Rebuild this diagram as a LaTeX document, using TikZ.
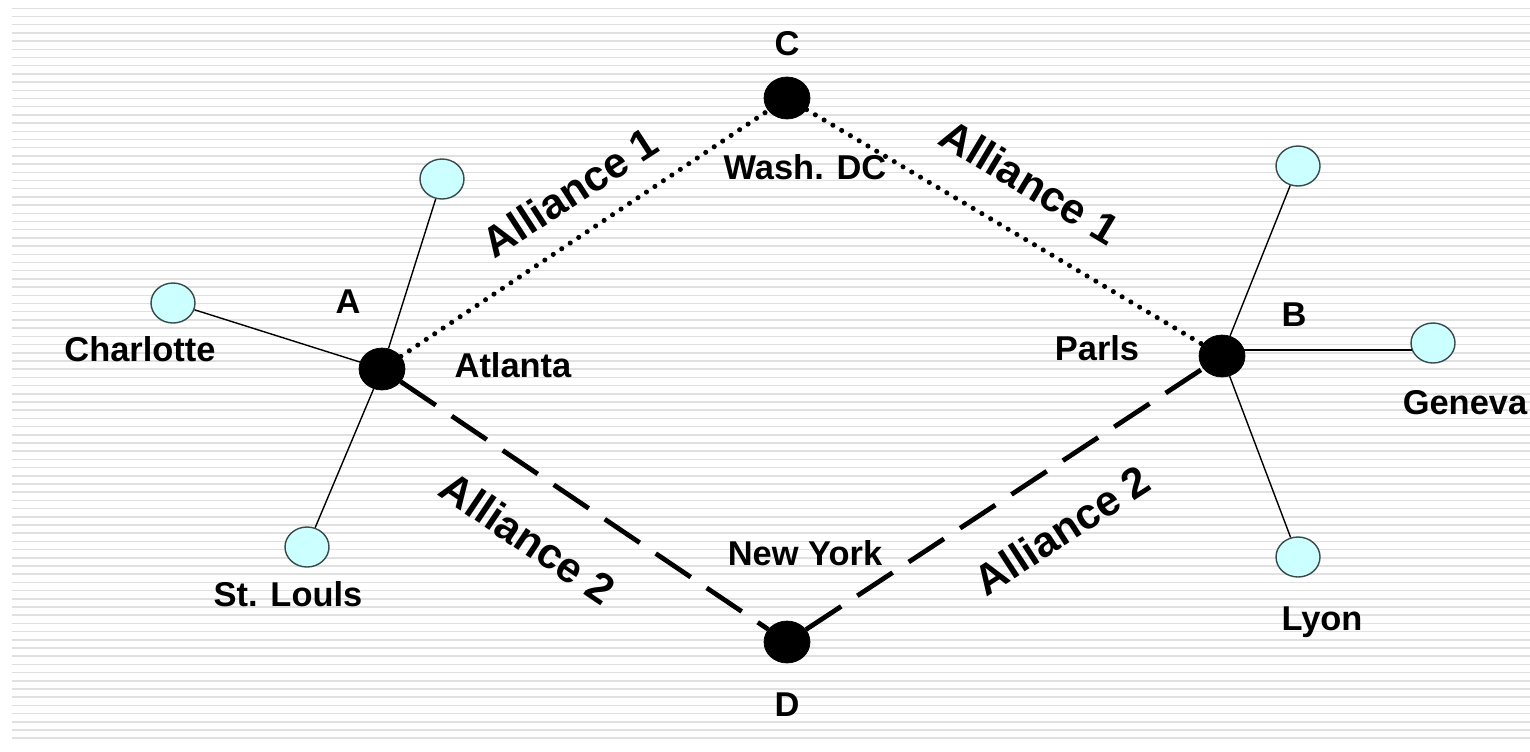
\documentclass[tikz,border=0pt]{standalone}
\usepackage{fontspec}
\setmainfont{Liberation Sans}
\usetikzlibrary{shapes.geometric}
\definecolor{stripe}{HTML}{E0E0E0}
\definecolor{cityfill}{HTML}{CCFFFF}
\definecolor{cityedge}{HTML}{3A4A4A}
\tikzset{
  hub/.style={ellipse, fill=black, draw=black, minimum width=0.92cm, minimum height=0.84cm, inner sep=0pt},
  city/.style={ellipse, fill=cityfill, draw=cityedge, line width=0.8pt, minimum width=0.88cm, minimum height=0.8cm, inner sep=0pt},
  lbl/.style={font=\bfseries\fontsize{19.6}{21}\selectfont, text=black, inner sep=0pt},
  alli/.style={font=\bfseries\fontsize{24.3}{26}\selectfont, text=black, inner sep=0pt},
  spoke/.style={draw=black, line width=0.8pt},
  al1/.style={draw=black, line width=2.9pt, line cap=round, dash pattern=on 0pt off 5.8pt},
  al2/.style={draw=black, line width=2.7pt, dash pattern=on 24pt off 11pt},
}
\begin{document}
\begin{tikzpicture}[x=0.02cm, y=-0.02cm]
\useasboundingbox (0,0) rectangle (1530,751);
\fill[white] (0,0) rectangle (1530,751);
\foreach \i in {0,...,89} {
  \draw[stripe, line width=0.9pt] (12,{8.3+8.2*\i}) -- (1530,{8.3+8.2*\i});
}
% hubs
\node[hub] (A) at (382,369) {};
\node[hub] (C) at (787,98) {};
\node[hub] (D) at (787,642) {};
\node[hub] (B) at (1222,356) {};
% cities
\node[city] (a1) at (442,179) {};
\node[city] (a2) at (173,303) {};
\node[city] (a3) at (307,547) {};
\node[city] (b1) at (1298,166) {};
\node[city] (b2) at (1433,343) {};
\node[city] (b3) at (1298,557) {};
% spokes
\draw[spoke] (A) -- (a1);
\draw[spoke] (A) -- (a2);
\draw[spoke] (A) -- (a3);
\draw[spoke] (B) -- (b1);
\draw[spoke] (B.center |- b2.198) -- (b2.198);
\draw[spoke] (B) -- (b3);
% alliances
\draw[al1] (A) -- (C);
\draw[al1] (C) -- (B);
\draw[al2] (A) -- (D);
\draw[al2] (D) -- (B);
% labels
\node[lbl] (lA) at (348,302) {A};
\node[lbl] (lB) at (1294,315) {B};
\node[lbl] (lC) at (787,44) {C};
\node[lbl] (lD) at (787,705) {D};
\node[lbl] (lch) at (140,349) {Charlotte};
\node[lbl] (lat) at (513,365) {Atlanta};
\node[lbl] (lsl) at (288,594) {St. Louls};
\node[lbl] (lwa) at (805,167) {Wash. DC};
\node[lbl] (lny) at (805,553) {New York};
\node[lbl] (lpa) at (1097,348) {Parls};
\node[lbl] (lge) at (1465,403) {Geneva};
\node[lbl] (lly) at (1322,622) {Lyon};
\node[alli, rotate=33] (t1) at (570,192) {Alliance 1};
\node[alli, rotate=-31] (t2) at (1030,182) {Alliance 1};
\node[alli, rotate=-34] (t3) at (528,538) {Alliance 2};
\node[alli, rotate=33] (t4) at (1062,530) {Alliance 2};
\end{tikzpicture}
\end{document}
